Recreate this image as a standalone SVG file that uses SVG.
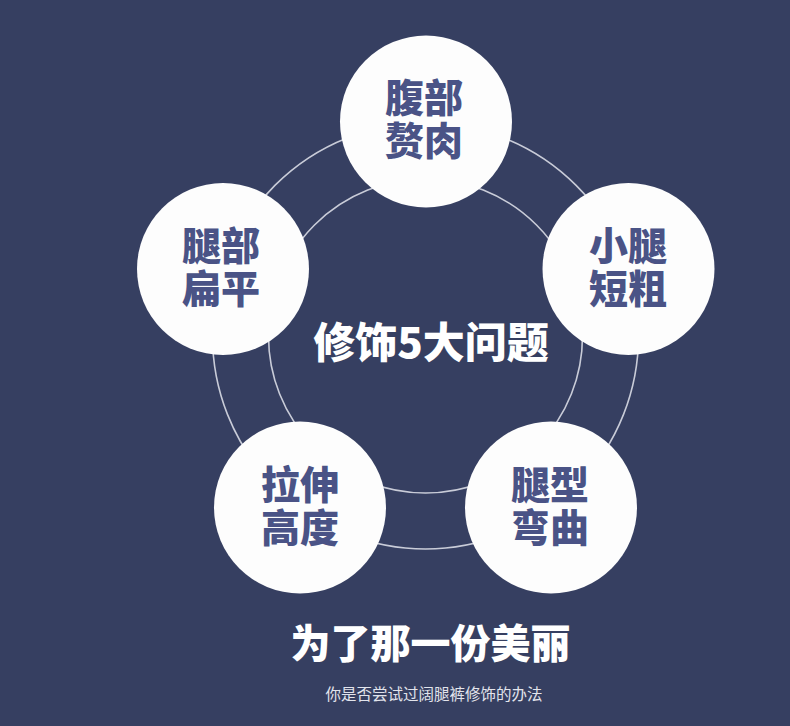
<svg xmlns="http://www.w3.org/2000/svg" width="790" height="726" viewBox="0 0 790 726">
<style>
.ring{fill:none;stroke:#c9ccd8;stroke-width:1.6}
.node{fill:#fdfdfd}
.nt{font-family:"Noto Sans CJK SC","Noto Sans",sans-serif;font-weight:900;font-size:39px;fill:#4a5386;text-anchor:middle}
.title{font-family:"Noto Sans CJK SC","Noto Sans",sans-serif;font-weight:900;fill:#ffffff;text-anchor:middle}
.sub{font-family:"Noto Sans CJK SC","Noto Sans",sans-serif;font-weight:400;font-size:15.5px;fill:#e2e4ec;text-anchor:middle}
</style>
<defs>
<filter id="soft" x="-10%" y="-10%" width="120%" height="120%"><feGaussianBlur stdDeviation="0.7"/></filter>
</defs>
<rect width="790" height="726" fill="#363f61"/>
<g id="connectors">
<circle class="ring" cx="425.5" cy="336" r="213"/>
<circle class="ring" cx="425.5" cy="336" r="157"/>
</g>
<g id="node-top">
<circle class="node" cx="426" cy="121.5" r="86" filter="url(#soft)"/>
<text class="nt" x="424" y="112">腹部<tspan x="424" dy="43">赘肉</tspan></text>
</g>
<g id="node-left">
<circle class="node" cx="223" cy="269" r="86" filter="url(#soft)"/>
<text class="nt" x="221" y="260">腿部<tspan x="221" dy="43">扁平</tspan></text>
</g>
<g id="node-right">
<circle class="node" cx="628.5" cy="269" r="86" filter="url(#soft)"/>
<text class="nt" x="628" y="260">小腿<tspan x="628" dy="43">短粗</tspan></text>
</g>
<g id="node-bottom-left">
<circle class="node" cx="300" cy="507.5" r="86" filter="url(#soft)"/>
<text class="nt" x="300" y="499">拉伸<tspan x="300" dy="43">高度</tspan></text>
</g>
<g id="node-bottom-right">
<circle class="node" cx="551" cy="507.5" r="86" filter="url(#soft)"/>
<text class="nt" x="550" y="499">腿型<tspan x="550" dy="43">弯曲</tspan></text>
</g>
<g id="center-title">
<text class="title" x="431" y="358" font-size="42">修饰5大问题</text>
</g>
<g id="captions">
<text class="title" x="430.5" y="658" font-size="40">为了那一份美丽</text>
<text class="sub" x="434" y="700">你是否尝试过阔腿裤修饰的办法</text>
</g>
</svg>
